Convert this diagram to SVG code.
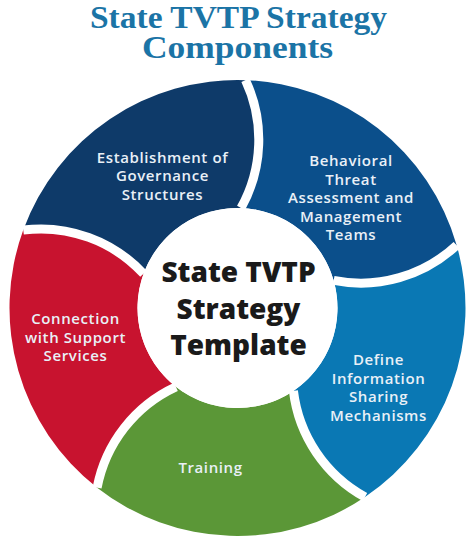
<svg xmlns="http://www.w3.org/2000/svg" width="467" height="540" viewBox="0 0 467 540">
<style>
.title{font-family:"Liberation Serif","DejaVu Serif",serif;font-weight:bold;font-size:31px;fill:#1b74a6;text-anchor:middle}
.lbl{font-family:"Open Sans","Noto Sans",sans-serif;font-weight:600;font-size:15px;letter-spacing:0.6px;fill:#e9f0f7;text-anchor:middle}
.ctr{font-family:"Open Sans","Noto Sans",sans-serif;font-weight:800;font-size:28px;fill:#1a1a1a;text-anchor:middle}
.gap{fill:none;stroke:#fff;stroke-width:9}
</style>
<rect width="467" height="540" fill="#fff"/>
<text class="title" x="238.5" y="28" textLength="297" lengthAdjust="spacingAndGlyphs">State TVTP Strategy</text>
<text class="title" x="237.5" y="57.5" textLength="191" lengthAdjust="spacingAndGlyphs">Components</text>

<g id="governance">
<path fill="#0e3a69" d="M143.53,273.80 A140,140 0 0 0 23.25,230.02 A228,228 0 0 1 245.46,80.14 A140,140 0 0 1 240.99,208.06 A100,100 0 0 0 143.53,273.80 Z"/>
<text class="lbl" x="162.5" y="162.5">Establishment of</text>
<text class="lbl" x="162.5" y="181">Governance</text>
<text class="lbl" x="162.5" y="199.5">Structures</text>
</g>
<g id="behavioral">
<path fill="#0b4f8b" d="M240.99,208.06 A140,140 0 0 0 245.46,80.14 A228,228 0 0 1 456.67,245.16 A140,140 0 0 1 333.63,280.44 A100,100 0 0 0 240.99,208.06 Z"/>
<text class="lbl" x="351" y="166">Behavioral</text>
<text class="lbl" x="351" y="184.5">Threat</text>
<text class="lbl" x="351" y="203">Assessment and</text>
<text class="lbl" x="351" y="221.5">Management</text>
<text class="lbl" x="351" y="240">Teams</text>
</g>
<g id="information">
<path fill="#0a78b4" d="M333.63,280.44 A140,140 0 0 0 456.67,245.16 A228,228 0 0 1 365.00,497.01 A140,140 0 0 1 293.42,390.90 A100,100 0 0 0 333.63,280.44 Z"/>
<text class="lbl" x="378.5" y="365">Define</text>
<text class="lbl" x="378.5" y="383.5">Information</text>
<text class="lbl" x="378.5" y="402">Sharing</text>
<text class="lbl" x="378.5" y="420.5">Mechanisms</text>
</g>
<g id="training">
<path fill="#5b9737" d="M293.42,390.90 A140,140 0 0 0 365.00,497.01 A228,228 0 0 1 97.12,487.66 A140,140 0 0 1 175.93,386.80 A100,100 0 0 0 293.42,390.90 Z"/>
<text class="lbl" x="210.5" y="473">Training</text>
</g>
<g id="support">
<path fill="#c8132f" d="M175.93,386.80 A140,140 0 0 0 97.12,487.66 A228,228 0 0 1 23.25,230.02 A140,140 0 0 1 143.53,273.80 A100,100 0 0 0 175.93,386.80 Z"/>
<text class="lbl" x="75.5" y="324">Connection</text>
<text class="lbl" x="75.5" y="342.5">with Support</text>
<text class="lbl" x="75.5" y="361">Services</text>
</g>

<g id="connectors">
<path class="gap" d="M240.99,208.06 A140,140 0 0 0 245.46,80.14"/>
<path class="gap" d="M333.63,280.44 A140,140 0 0 0 456.67,245.16"/>
<path class="gap" d="M293.42,390.90 A140,140 0 0 0 365.00,497.01"/>
<path class="gap" d="M175.93,386.80 A140,140 0 0 0 97.12,487.66"/>
<path class="gap" d="M143.53,273.80 A140,140 0 0 0 23.25,230.02"/>
</g>

<g id="center">
<circle cx="237.5" cy="308" r="100" fill="#fff"/>
<text class="ctr" x="238.5" y="282">State TVTP</text>
<text class="ctr" x="238.5" y="318.5">Strategy</text>
<text class="ctr" x="238.5" y="355">Template</text>
</g>
</svg>
